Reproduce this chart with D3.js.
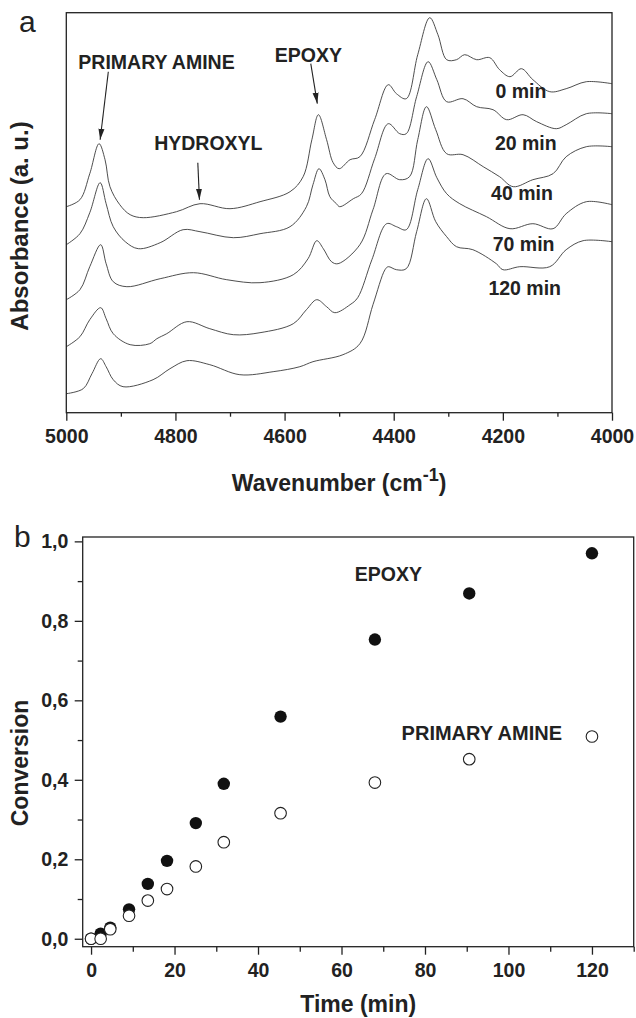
<!DOCTYPE html>
<html>
<head>
<meta charset="utf-8">
<script src="https://cdn.jsdelivr.net/npm/d3@7"></script>
<style>
  body { margin: 0; background: #fff; }
  svg { display: block; font-family: "Liberation Sans", Arial, sans-serif; }
</style>
</head>
<body>
<svg id="chart" width="636" height="1018"></svg>
<script>
// ---- panel a : NIR spectra, [wavenumber, absorbance (a.u., offset)] ----
const spec0min = [[5000,2.06],[4975,2.13],[4957,2.39],[4940,2.69],[4929,2.53],[4920,2.26],[4902,2.08],[4883,1.98],[4859,1.95],[4798,2.01],[4755,2.09],[4700,2.04],[4645,2.11],[4590,2.21],[4566,2.36],[4550,2.73],[4538,2.98],[4523,2.73],[4511,2.50],[4500,2.44],[4480,2.53],[4462,2.56],[4435,2.93],[4410,3.28],[4395,3.19],[4377,3.14],[4356,3.58],[4334,3.95],[4319,3.78],[4303,3.53],[4285,3.53],[4270,3.58],[4248,3.53],[4224,3.55],[4206,3.43],[4187,3.36],[4166,3.44],[4145,3.33],[4114,3.21],[4084,3.24],[4047,3.31],[4000,3.29]];
const spec20min = [[5000,1.68],[4975,1.79],[4957,2.00],[4938,2.30],[4927,2.09],[4914,1.86],[4892,1.71],[4868,1.64],[4828,1.70],[4786,1.83],[4755,1.81],[4694,1.75],[4645,1.79],[4590,1.86],[4560,2.06],[4548,2.28],[4537,2.44],[4526,2.33],[4517,2.16],[4505,2.09],[4499,2.06],[4474,2.14],[4459,2.19],[4435,2.54],[4410,2.89],[4389,2.79],[4377,2.79],[4358,3.16],[4337,3.51],[4321,3.33],[4303,3.11],[4273,3.14],[4248,3.06],[4218,3.03],[4193,2.93],[4163,2.98],[4138,2.91],[4102,2.84],[4084,2.88],[4047,2.99],[4000,2.99]];
const spec40min = [[5000,1.13],[4975,1.23],[4957,1.46],[4937,1.68],[4927,1.49],[4914,1.31],[4889,1.26],[4828,1.34],[4767,1.40],[4706,1.33],[4645,1.30],[4584,1.38],[4557,1.54],[4541,1.72],[4529,1.64],[4514,1.51],[4502,1.49],[4462,1.68],[4438,2.03],[4414,2.39],[4389,2.33],[4371,2.36],[4356,2.73],[4340,3.06],[4323,2.83],[4303,2.59],[4273,2.58],[4236,2.46],[4206,2.36],[4181,2.26],[4145,2.33],[4108,2.39],[4084,2.56],[4047,2.66],[4000,2.66]];
const spec70min = [[5000,0.66],[4975,0.76],[4957,0.93],[4937,1.05],[4927,0.94],[4914,0.79],[4883,0.68],[4847,0.69],[4834,0.74],[4816,0.79],[4779,0.91],[4737,0.84],[4694,0.78],[4645,0.80],[4584,0.89],[4560,1.03],[4541,1.13],[4523,1.06],[4508,1.00],[4480,1.08],[4466,1.15],[4440,1.53],[4413,1.89],[4395,1.86],[4377,1.83],[4356,2.23],[4337,2.54],[4321,2.35],[4303,2.19],[4279,2.09],[4230,1.96],[4187,1.84],[4145,1.89],[4108,1.84],[4084,1.99],[4047,2.11],[4000,2.08]];
const spec120min = [[5000,0.19],[4969,0.24],[4953,0.39],[4937,0.54],[4927,0.46],[4914,0.33],[4896,0.26],[4841,0.33],[4810,0.44],[4779,0.52],[4737,0.48],[4682,0.38],[4621,0.41],[4572,0.46],[4548,0.51],[4493,0.58],[4462,0.69],[4438,1.08],[4416,1.43],[4410,1.46],[4395,1.43],[4377,1.44],[4358,1.81],[4340,2.14],[4323,1.91],[4303,1.76],[4285,1.66],[4255,1.63],[4212,1.49],[4200,1.43],[4169,1.46],[4114,1.46],[4084,1.63],[4053,1.72],[4000,1.71]];

const spectra = [spec0min, spec20min, spec40min, spec70min, spec120min];
const spectraNames = ["0 min", "20 min", "40 min", "70 min", "120 min"];
// label anchor [wavenumber, absorbance] for each time label
const spectraLabelPos = [[4167, 3.15], [4158, 2.63], [4165, 2.13], [4162, 1.62], [4160, 1.18]];

const wnMajor = [5000, 4800, 4600, 4400, 4200, 4000];
const wnMinor = [4900, 4700, 4500, 4300, 4100];

// peak annotations: text position and arrow (from -> to)
const peakNotes = [
  { text: "PRIMARY AMINE", pos: [4978, 3.44], from: [4923, 3.41], to: [4938, 2.73] },
  { text: "EPOXY", pos: [4618, 3.51], from: [4552, 3.49], to: [4540, 3.09] },
  { text: "HYDROXYL", pos: [4839, 2.63], from: [4759, 2.50], to: [4756, 2.13] }
];

// ---- panel b : conversion vs time ----
const times = [0, 2.3, 4.6, 9.1, 13.6, 18.2, 25.1, 31.8, 45.4, 68.0, 90.6, 120];
const epoxyConv = [0, 0.013, 0.028, 0.074, 0.138, 0.196, 0.291, 0.390, 0.559, 0.753, 0.869, 0.970];
const amineConv = [0, 0.000, 0.024, 0.058, 0.096, 0.125, 0.182, 0.243, 0.316, 0.393, 0.452, 0.509];

const timeMajor = [0, 20, 40, 60, 80, 100, 120];
const timeMinor = [10, 30, 50, 70, 90, 110, 130];
const convMajor = [0, 0.2, 0.4, 0.6, 0.8, 1.0];
const convMinor = [0.1, 0.3, 0.5, 0.7, 0.9];

const ink = "#222";
const svg = d3.select("#chart");

svg.append("defs").append("marker")
  .attr("id", "arrow")
  .attr("markerUnits", "userSpaceOnUse")
  .attr("markerWidth", 12).attr("markerHeight", 8)
  .attr("refX", 11).attr("refY", 4)
  .attr("orient", "auto")
  .append("path")
  .attr("d", "M0,1 L11,4 L0,7 Z")
  .attr("fill", ink);

function styleAxis(g, size) {
  g.select(".domain").remove();
  g.selectAll("line").attr("stroke", ink).attr("stroke-width", 1.3);
  g.selectAll("text")
    .attr("fill", ink)
    .style("font-size", size + "px")
    .style("font-weight", "bold");
}

// ===== panel a =====
const xA = d3.scaleLinear().domain([5000, 4000]).range([66.3, 612]);
const yA = d3.scaleLinear().domain([0, 4]).range([412.7, 12.7]);

const line = d3.line()
  .x(d => xA(d[0]))
  .y(d => yA(d[1]))
  .curve(d3.curveCatmullRom.alpha(0.5));

const gA = svg.append("g");

gA.selectAll("path.spec")
  .data(spectra)
  .join("path")
  .attr("class", "spec")
  .attr("d", line)
  .attr("fill", "none")
  .attr("stroke", "#3a3a3a")
  .attr("stroke-width", 0.9);

gA.append("g")
  .attr("transform", `translate(0,${yA(0)})`)
  .call(d3.axisBottom(xA).tickValues(wnMajor).tickSize(8).tickPadding(8.5).tickFormat(d3.format("d")))
  .call(g => styleAxis(g, 19.5));

gA.append("g")
  .attr("transform", `translate(0,${yA(0)})`)
  .call(d3.axisBottom(xA).tickValues(wnMinor).tickSize(4).tickFormat(""))
  .call(g => styleAxis(g, 19.5));

gA.append("rect")
  .attr("x", xA(5000)).attr("y", yA(4))
  .attr("width", xA(4000) - xA(5000)).attr("height", yA(0) - yA(4))
  .attr("fill", "none").attr("stroke", ink).attr("stroke-width", 1.3);

gA.selectAll("text.tlabel")
  .data(spectraNames)
  .join("text")
  .attr("class", "tlabel")
  .attr("x", (d, i) => xA(spectraLabelPos[i][0]))
  .attr("y", (d, i) => yA(spectraLabelPos[i][1]))
  .attr("text-anchor", "middle")
  .attr("fill", ink)
  .style("font-size", "19.5px")
  .style("font-weight", "bold")
  .text(d => d);

gA.selectAll("text.note")
  .data(peakNotes)
  .join("text")
  .attr("class", "note")
  .attr("x", d => xA(d.pos[0]))
  .attr("y", d => yA(d.pos[1]))
  .attr("fill", ink)
  .style("font-size", "19.5px")
  .style("font-weight", "bold")
  .text(d => d.text);

gA.selectAll("line.arrow")
  .data(peakNotes)
  .join("line")
  .attr("class", "arrow")
  .attr("x1", d => xA(d.from[0])).attr("y1", d => yA(d.from[1]))
  .attr("x2", d => xA(d.to[0])).attr("y2", d => yA(d.to[1]))
  .attr("stroke", ink).attr("stroke-width", 1.1)
  .attr("marker-end", "url(#arrow)");

svg.append("text")
  .attr("x", 19).attr("y", 31.7)
  .attr("fill", ink)
  .style("font-size", "30px")
  .text("a");

svg.append("text")
  .attr("transform", "translate(28,226) rotate(-90)")
  .attr("text-anchor", "middle")
  .attr("fill", ink)
  .style("font-size", "24px")
  .style("font-weight", "bold")
  .text("Absorbance (a. u.)");

const wnTitle = svg.append("text")
  .attr("x", (xA(5000) + xA(4000)) / 2).attr("y", 491)
  .attr("text-anchor", "middle")
  .attr("fill", ink)
  .style("font-size", "23px")
  .style("font-weight", "bold");
wnTitle.append("tspan").text("Wavenumber (cm");
wnTitle.append("tspan").attr("dy", -10).style("font-size", "18px").text("-1");
wnTitle.append("tspan").attr("dy", 10).text(")");

// ===== panel b =====
const xB = d3.scaleLinear().domain([-2, 130]).range([82.7, 633.7]);
const yB = d3.scaleLinear().domain([-0.02, 1.011]).range([946.7, 537]);
const commaFmt = d => d3.format(".1f")(d).replace(".", ",");

const gB = svg.append("g");

gB.append("g")
  .attr("transform", `translate(0,${yB(-0.02)})`)
  .call(d3.axisBottom(xB).tickValues(timeMajor).tickSize(8).tickPadding(8.5).tickFormat(d3.format("d")))
  .call(g => styleAxis(g, 19.5));

gB.append("g")
  .attr("transform", `translate(0,${yB(-0.02)})`)
  .call(d3.axisBottom(xB).tickValues(timeMinor).tickSize(5).tickFormat(""))
  .call(g => styleAxis(g, 19.5));

gB.append("g")
  .attr("transform", `translate(${xB(-2)},0)`)
  .call(d3.axisLeft(yB).tickValues(convMajor).tickSize(8).tickPadding(6.4).tickFormat(commaFmt))
  .call(g => styleAxis(g, 19.5));

gB.append("g")
  .attr("transform", `translate(${xB(-2)},0)`)
  .call(d3.axisLeft(yB).tickValues(convMinor).tickSize(5).tickFormat(""))
  .call(g => styleAxis(g, 19.5));

gB.append("rect")
  .attr("x", xB(-2)).attr("y", yB(1.011))
  .attr("width", xB(130) - xB(-2)).attr("height", yB(-0.02) - yB(1.011))
  .attr("fill", "none").attr("stroke", ink).attr("stroke-width", 1.3);

gB.selectAll("circle.epoxy")
  .data(times)
  .join("circle")
  .attr("class", "epoxy")
  .attr("cx", d => xB(d))
  .attr("cy", (d, i) => yB(epoxyConv[i]))
  .attr("r", 6.2)
  .attr("fill", "#111");

gB.selectAll("circle.amine")
  .data(times)
  .join("circle")
  .attr("class", "amine")
  .attr("cx", d => xB(d))
  .attr("cy", (d, i) => yB(amineConv[i]))
  .attr("r", 5.8)
  .attr("fill", "#fff")
  .attr("stroke", ink)
  .attr("stroke-width", 1.1);

gB.append("text")
  .attr("x", xB(63.2)).attr("y", yB(0.901))
  .attr("fill", ink)
  .style("font-size", "19.5px").style("font-weight", "bold")
  .text("EPOXY");

gB.append("text")
  .attr("x", xB(74.4)).attr("y", yB(0.500))
  .attr("fill", ink)
  .style("font-size", "20px").style("font-weight", "bold")
  .text("PRIMARY AMINE");

svg.append("text")
  .attr("x", 14).attr("y", 546.7)
  .attr("fill", ink)
  .style("font-size", "30px")
  .text("b");

svg.append("text")
  .attr("transform", "translate(28,763) rotate(-90)")
  .attr("text-anchor", "middle")
  .attr("fill", ink)
  .style("font-size", "23px")
  .style("font-weight", "bold")
  .text("Conversion");

svg.append("text")
  .attr("x", (xB(-2) + xB(130)) / 2).attr("y", 1012)
  .attr("text-anchor", "middle")
  .attr("fill", ink)
  .style("font-size", "23px")
  .style("font-weight", "bold")
  .text("Time (min)");
</script>
</body>
</html>
